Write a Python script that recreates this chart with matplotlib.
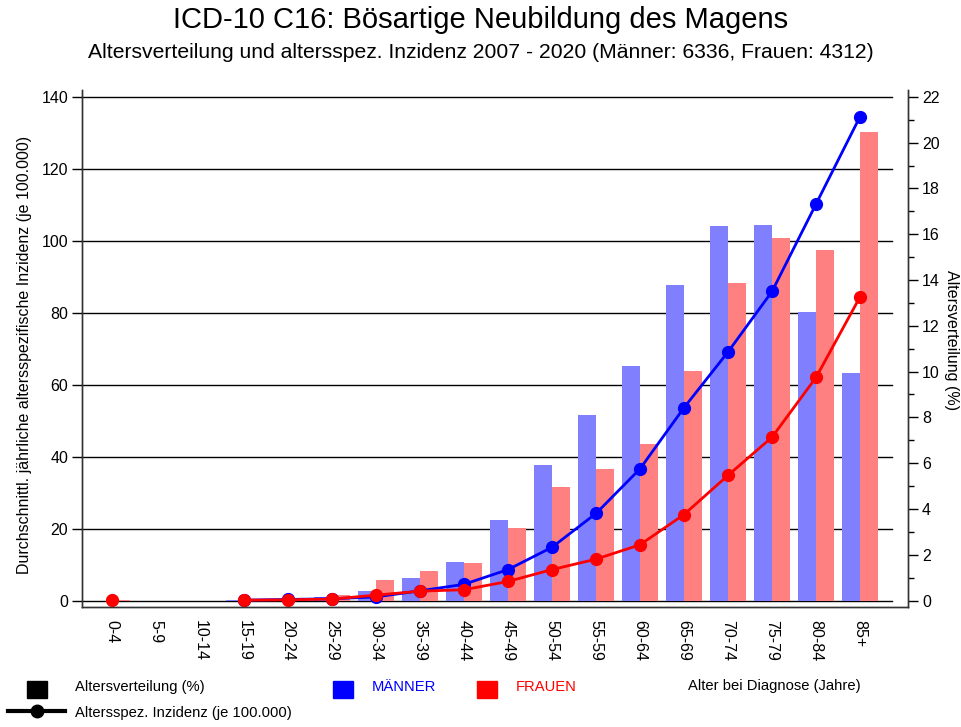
import numpy as np
import matplotlib
matplotlib.use("Agg")
import matplotlib.pyplot as plt
from matplotlib.lines import Line2D
from matplotlib.patches import Rectangle

plt.rcParams['font.family'] = ['Liberation Sans', 'DejaVu Sans']

age_groups = ["0-4", "5-9", "10-14", "15-19", "20-24", "25-29", "30-34", "35-39", "40-44",
              "45-49", "50-54", "55-59", "60-64", "65-69", "70-74", "75-79", "80-84", "85+"]
# Altersverteilung (%), right axis
pct_men = [0, 0, 0, 0.03, 0.05, 0.15, 0.42, 0.97, 1.70, 3.53, 5.94, 8.12, 10.23, 13.80, 16.36, 16.42, 12.62, 9.95]
pct_women = [0.03, 0, 0, 0, 0.05, 0.25, 0.90, 1.29, 1.65, 3.16, 4.96, 5.74, 6.83, 10.03, 13.85, 15.82, 15.31, 20.45]
# altersspez. Inzidenz (je 100.000), left axis
inc_men = [np.nan, np.nan, np.nan, 0.1, 0.3, 0.5, 1.0, 2.7, 4.5, 8.6, 14.8, 24.2, 36.6, 53.6, 69.1, 85.9, 110.2, 134.5]
inc_women = [0.1, np.nan, np.nan, 0.1, 0.2, 0.4, 1.5, 2.6, 3.0, 5.3, 8.6, 11.5, 15.5, 23.9, 34.8, 45.4, 62.0, 84.4]

W, H = 962, 727
fig = plt.figure(figsize=(W / 100, H / 100), dpi=100)
ax = fig.add_axes([82 / W, 1 - 607 / H, (908 - 82) / W, (607 - 90) / H])
ax2 = ax.twinx()
ax.set_zorder(ax2.get_zorder() + 1)
ax.patch.set_visible(False)

x = np.arange(len(age_groups))
bw = 0.41
ax2.bar(x - bw / 2, pct_men, bw, color="#8080ff", zorder=2)
ax2.bar(x + bw / 2, pct_women, bw, color="#ff8080", zorder=2)

lo, hi = -1.8, 141.9
ax.set_ylim(lo, hi)
ax2.set_ylim(lo * 22 / 140, hi * 22 / 140)
ax.set_xlim(-0.68, 18.09)

# gridlines behind the bars, at left-axis ticks
for v in range(0, 141, 20):
    ax2.axhline(v * 22 / 140, xmin=0, xmax=0.981, color="black", lw=1, zorder=0)

ax.plot(x, inc_men, color="#0000ff", lw=2, marker="o", ms=8.5)
ax.plot(x, inc_women, color="#ff0000", lw=2, marker="o", ms=8.5)

ax.set_yticks(range(0, 141, 20))
ax2.set_yticks(range(0, 23, 2))
ax2.set_yticks(range(1, 23, 2), minor=True)
ax.tick_params(axis="y", direction="out", length=7, width=1, labelsize=11.5, pad=3)
ax2.tick_params(axis="y", which="major", direction="out", length=7, width=1, labelsize=11.5, pad=3)
ax2.tick_params(axis="y", which="minor", direction="out", length=4, width=1)
ax.set_xticks(x)
ax.set_xticklabels(age_groups, rotation=-90, fontsize=11.5)
ax.tick_params(axis="x", length=0, pad=9)

for a in (ax, ax2):
    a.spines["top"].set_visible(False)
    for s in ("left", "right", "bottom"):
        a.spines[s].set_color("#333333")
        a.spines[s].set_linewidth(1)

fig.text(0.5, 1 - 20 / H, "ICD-10 C16: Bösartige Neubildung des Magens",
         ha="center", va="center", fontsize=21)
fig.text(0.5, 1 - 52 / H,
         "Altersverteilung und altersspez. Inzidenz 2007 - 2020 (Männer: 6336, Frauen: 4312)",
         ha="center", va="center", fontsize=15.2)
fig.text(25 / W, 1 - 355 / H,
         "Durchschnittl. jährliche altersspezifische Inzidenz (je 100.000)",
         rotation=90, ha="center", va="center", fontsize=11.5)
fig.text(952 / W, 1 - 340 / H, "Altersverteilung (%)",
         rotation=270, ha="center", va="center", fontsize=11.5)

# legend below the chart
def square(x0, x1, cy, color):
    fig.patches.append(Rectangle((x0 / W, 1 - (cy + 8.5) / H), (x1 - x0) / W, 17 / H,
                                 transform=fig.transFigure, color=color))

square(27, 47, 689, "black")
square(333, 353, 689, "#0000ff")
square(477, 497, 689, "#ff0000")
fig.lines.append(Line2D([8 / W, 65 / W], [1 - 711 / H] * 2, transform=fig.transFigure,
                        color="black", lw=3))
fig.lines.append(Line2D([37 / W], [1 - 711 / H], transform=fig.transFigure,
                        color="black", marker="o", ms=9))
fig.text(75 / W, 1 - 687 / H, "Altersverteilung (%)", va="center", fontsize=10.6)
fig.text(75 / W, 1 - 713 / H, "Altersspez. Inzidenz (je 100.000)", va="center", fontsize=10.6)
fig.text(372 / W, 1 - 687 / H, "MÄNNER", va="center", fontsize=10.6, color="#0000ff")
fig.text(516 / W, 1 - 687 / H, "FRAUEN", va="center", fontsize=10.6, color="#ff0000")
fig.text(688 / W, 1 - 686 / H, "Alter bei Diagnose (Jahre)", va="center", fontsize=10.6)

fig.savefig("out.png", dpi=100)
